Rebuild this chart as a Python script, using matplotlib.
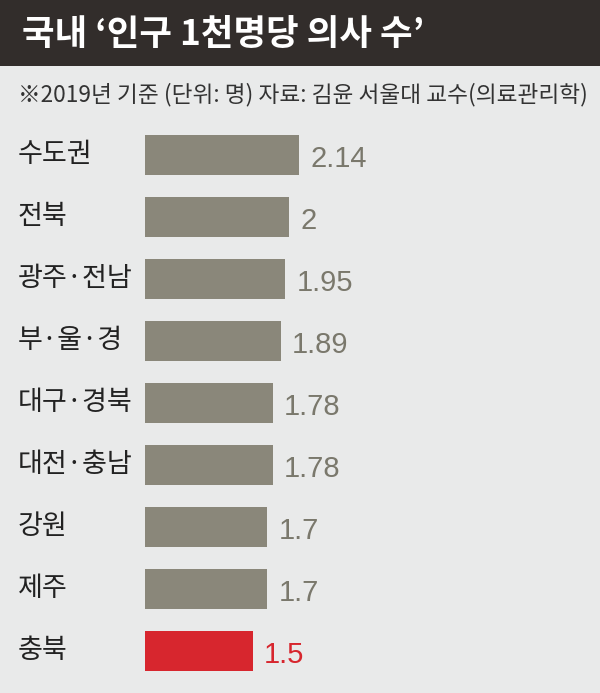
import matplotlib
matplotlib.use("Agg")
import matplotlib.pyplot as plt
from matplotlib.patches import Rectangle
from matplotlib.transforms import blended_transform_factory

regions = ["수도권", "전북", "광주·전남", "부·울·경", "대구·경북", "대전·충남", "강원", "제주", "충북"]
values = [2.14, 2, 1.95, 1.89, 1.78, 1.78, 1.7, 1.7, 1.5]
value_labels = ["2.14", "2", "1.95", "1.89", "1.78", "1.78", "1.7", "1.7", "1.5"]
highlight = "충북"

title = "국내 ‘인구 1천명당 의사 수’"
subtitle = "※2019년 기준 (단위: 명) 자료: 김윤 서울대 교수(의료관리학)"

BG = "#e9eaea"
DARK = "#322d2b"
GRAY = "#8a877a"
GRAY_TXT = "#7a786c"
RED = "#d7262e"
KFONT = ["Noto Sans CJK KR", "DejaVu Sans"]
NFONT = ["Liberation Sans Narrow", "Liberation Sans", "DejaVu Sans"]

W, H = 600, 693
fig = plt.figure(figsize=(W / 100, H / 100), dpi=100)
fig.patch.set_facecolor(BG)

# title band
fig.patches.append(Rectangle((0, 1 - 66 / H), 1, 66 / H, transform=fig.transFigure,
                             facecolor=DARK, edgecolor="none", zorder=0))
fig.text(22 / W, 1 - 34 / H, title, color="white", fontsize=25.5, fontweight="bold",
         family=KFONT, va="center", ha="left")
fig.text(18 / W, 1 - 95 / H, subtitle, color="#333333", fontsize=16.3,
         family=KFONT, va="center", ha="left")

# axes: x=0 at px 145, 72 px per unit; rows 62 px apart, first center at 155 px
x0 = 145
top_px, bot_px = 155 - 31, 155 + 62 * 8 + 31
ax = fig.add_axes([x0 / W, 1 - bot_px / H, (W - x0) / W, (bot_px - top_px) / H])
ax.set_facecolor("none")
ax.set_xlim(0, (W - x0) / 72)
ax.set_ylim(len(regions) - 0.5, -0.5)
ax.axis("off")

colors = [RED if r == highlight else GRAY for r in regions]
ypos = list(range(len(regions)))
ax.barh(ypos, values, height=40 / 62, color=colors)

lab_tr = blended_transform_factory(fig.transFigure, ax.transData)
for y, r, v, vl, c in zip(ypos, regions, values, value_labels, colors):
    ax.text(18 / W, y, r, transform=lab_tr, fontsize=19.5, family=KFONT,
            color="#222222", va="center", ha="left")
    ax.text(v + 11 / 72, y + 0.06, vl, fontsize=21, family=NFONT,
            color=RED if r == highlight else GRAY_TXT, va="center", ha="left")

fig.savefig("out.png", dpi=100, facecolor=BG)
